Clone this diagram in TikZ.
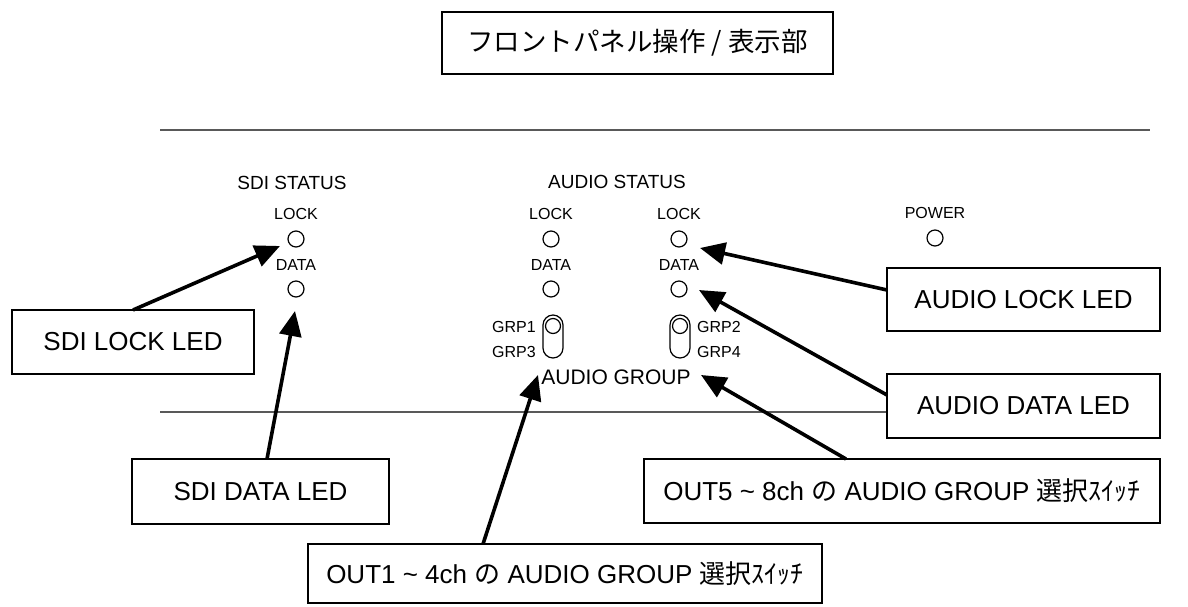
\documentclass[tikz,border=0pt]{standalone}
\usepackage{fontspec}
\setmainfont{Liberation Sans}
\newfontfamily\jpfont{Noto Sans CJK JP}
\usetikzlibrary{arrows.meta}

\begin{document}
\begin{tikzpicture}[x=1pt, y=-1pt,
    box/.style = {draw, line width=2.5pt, fill=white, inner sep=0pt, outer sep=0pt, font=\fontsize{26}{30}\selectfont},
    head/.style = {inner sep=0pt, font=\fontsize{19}{22}\selectfont},
    small/.style = {inner sep=0pt, font=\fontsize{16}{18}\selectfont},
    led/.style = {draw, circle, line width=1.2pt, minimum size=16pt, inner sep=0pt},
    lever/.style = {draw, rectangle, rounded corners=10pt, line width=1.2pt, minimum width=20pt, minimum height=43pt, inner sep=0pt},
    panel/.style = {draw=black!65, line width=1.3pt},
    point/.style = {-{Triangle[length=25pt, width=22pt]}, line width=3.6pt}]
    \useasboundingbox (0,0) rectangle (1188,606);

    % title
    \node[box, minimum width=391pt, minimum height=62pt, font=\jpfont\fontsize{26.5}{30}\selectfont] (title) at (637.5,43) {フロントパネル操作 / 表示部};

    % front panel
    \draw[panel] (160,130) -- (1150,130);
    \draw[panel] (160,412) -- (1150,412);

    \node[head] (sdistat) at (292,183) {SDI STATUS};
    \node[head] (audstat) at (617,182) {AUDIO STATUS};

    \node[small] (sdilocktxt) at (296,214) {LOCK};
    \node[led] (sdilock) at (296,239) {};
    \node[small] (sdidatatxt) at (296,265) {DATA};
    \node[led] (sdidata) at (296,289) {};

    \node[small] (alocktxt) at (551,214) {LOCK};
    \node[led] (alock) at (551,239) {};
    \node[small] (adatatxt) at (551,265) {DATA};
    \node[led] (adata) at (551,289) {};

    \node[small] (blocktxt) at (679,214) {LOCK};
    \node[led] (block) at (679,239) {};
    \node[small] (bdatatxt) at (679,265) {DATA};
    \node[led] (bdata) at (679,289) {};

    \node[small] (powertxt) at (935,213) {POWER};
    \node[led] (power) at (935,238) {};

    % group switches
    \node[lever] (swa) at (553,336.5) {};
    \node[led, minimum size=15pt] (swaknob) at (553,326) {};
    \node[lever] (swb) at (680,336.5) {};
    \node[led, minimum size=15pt] (swbknob) at (680,326) {};
    \node[small, anchor=east] (grp1) at (536,327) {GRP1};
    \node[small, anchor=east] (grp3) at (536,352) {GRP3};
    \node[small, anchor=west] (grp2) at (697,327) {GRP2};
    \node[small, anchor=west] (grp4) at (697,352) {GRP4};
    \node[inner sep=0pt, font=\fontsize{21}{24}\selectfont] (audgrp) at (616,377.5) {AUDIO GROUP};

    % callouts
    \node[box, minimum width=242pt, minimum height=64pt] (sdilockbox) at (133,342) {SDI LOCK LED};
    \node[box, minimum width=257pt, minimum height=65pt] (sdidatabox) at (260.5,491.5) {SDI DATA LED};
    \node[box, minimum width=273pt, minimum height=63pt] (alockbox) at (1023.5,299.5) {AUDIO LOCK LED};
    \node[box, minimum width=273pt, minimum height=64pt] (adatabox) at (1023.5,406) {AUDIO DATA LED};
    \node[box, minimum width=516pt, minimum height=64pt] (out5box) at (902,491) {OUT5 \textasciitilde{} 8ch {\jpfont の} AUDIO GROUP {\jpfont 選択ｽｲｯﾁ}};
    \node[box, minimum width=514pt, minimum height=59pt] (out1box) at (565,573.5) {OUT1 \textasciitilde{} 4ch {\jpfont の} AUDIO GROUP {\jpfont 選択ｽｲｯﾁ}};

    \coordinate (tipsl) at (280,246);
    \coordinate (tipsd) at (295,311);
    \coordinate (tipal) at (700,248);
    \coordinate (tipad) at (699,290);
    \coordinate (tipo5) at (701,375);
    \coordinate (tipo1) at (538,375);

    \draw[point] (sdilockbox.north) -- (tipsl);
    \draw[point] ([xshift=6.5pt]sdidatabox.north) -- (tipsd);
    \draw[point] ([yshift=9.5pt]alockbox.west) -- (tipal);
    \draw[point] ([yshift=11pt]adatabox.west) -- (tipad);
    \draw[point] ([xshift=-56pt]out5box.north) -- (tipo5);
    \draw[point] ([xshift=-82pt]out1box.north) -- (tipo1);
\end{tikzpicture}
\end{document}
